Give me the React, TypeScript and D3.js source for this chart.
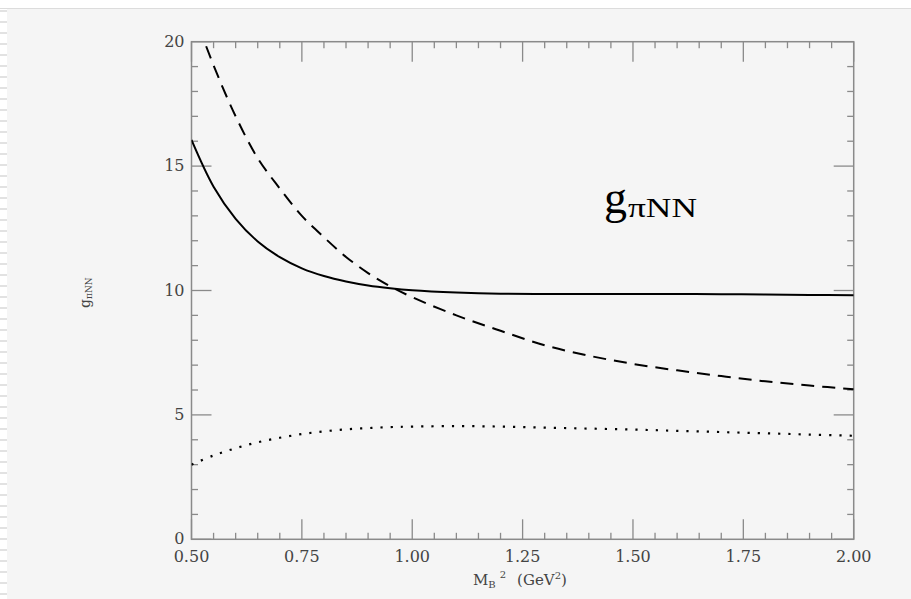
import React, { useEffect, useRef } from 'react'
import * as d3 from 'd3'

// Borel mass squared (GeV^2)
const massSq = [0.5, 0.55, 0.6, 0.65, 0.7, 0.75, 0.8, 0.85, 0.9, 0.95, 1.0, 1.1, 1.2, 1.3, 1.4, 1.5, 1.6, 1.7, 1.8, 1.9, 2.0]
// the three sum rule curves
const gSolid = [16.05, 14.17, 12.88, 11.97, 11.34, 10.89, 10.58, 10.36, 10.2, 10.09, 10.01, 9.92, 9.87, 9.86, 9.86, 9.86, 9.86, 9.85, 9.84, 9.82, 9.81]
const gDashed = [21.4, 19.05, 17.0, 15.32, 14.1, 13.0, 12.14, 11.35, 10.7, 10.17, 9.73, 9.0, 8.38, 7.8, 7.38, 7.05, 6.79, 6.56, 6.35, 6.18, 6.03]
const gDotted = [3.0, 3.37, 3.66, 3.9, 4.08, 4.23, 4.34, 4.42, 4.47, 4.51, 4.53, 4.55, 4.53, 4.49, 4.45, 4.41, 4.36, 4.31, 4.26, 4.21, 4.16]

const xMajorTicks = [0.5, 0.75, 1.0, 1.25, 1.5, 1.75, 2.0]
const xTickLabels = ['0.50', '0.75', '1.00', '1.25', '1.50', '1.75', '2.00']
const yMajorTicks = [0, 5, 10, 15, 20]
const yTickLabels = ['0', '5', '10', '15', '20']

const App = () => {
	const ref = useRef(null)

	useEffect(() => {
		const svg = d3.select(ref.current)
		svg.selectAll('*').remove()

		const width = 911,
			height = 599
		const axisColor = '#8a8a8a'
		const labelFont = "'DejaVu Serif', serif"

		// page / panel background
		svg.append('rect').attr('width', width).attr('height', height).attr('fill', '#fff')
		svg.append('rect').attr('x', 7).attr('y', 8).attr('width', width - 7).attr('height', height - 8).attr('fill', '#f5f5f5')
		svg.append('line').attr('x1', 0).attr('x2', width).attr('y1', 8.5).attr('y2', 8.5).attr('stroke', '#dcdcdc')
		svg.append('g')
			.selectAll('rect')
			.data(d3.range(10, height, 11))
			.enter()
			.append('rect')
			.attr('x', 0)
			.attr('y', d => d)
			.attr('width', 7)
			.attr('height', 2)
			.attr('fill', '#e2e2e2')

		const x = d3.scaleLinear().domain([0.5, 2.0]).range([191.5, 853.7])
		const y = d3.scaleLinear().domain([0, 20]).range([539.3, 41.7])

		const [x0, x1] = x.range()
		const [y0, y1] = y.range()

		svg.append('defs')
			.append('clipPath')
			.attr('id', 'plotClip')
			.append('rect')
			.attr('x', x0)
			.attr('y', y1)
			.attr('width', x1 - x0)
			.attr('height', y0 - y1)

		// frame
		svg.append('rect')
			.attr('x', x0)
			.attr('y', y1)
			.attr('width', x1 - x0)
			.attr('height', y0 - y1)
			.attr('fill', 'none')
			.attr('stroke', axisColor)
			.attr('stroke-width', 1.5)

		const ticks = svg.append('g').attr('stroke', axisColor).attr('stroke-width', 1.3)
		const isMajor = (list, v) => list.some(m => Math.abs(m - v) < 1e-6)

		x.ticks(30).forEach(v => {
			const len = isMajor(xMajorTicks, v) ? 20 : 6.5
			ticks.append('line').attr('x1', x(v)).attr('x2', x(v)).attr('y1', y0).attr('y2', y0 - len)
			ticks.append('line').attr('x1', x(v)).attr('x2', x(v)).attr('y1', y1).attr('y2', y1 + len)
		})
		y.ticks(20).forEach(v => {
			const len = isMajor(yMajorTicks, v) ? 20 : 6.5
			ticks.append('line').attr('y1', y(v)).attr('y2', y(v)).attr('x1', x0).attr('x2', x0 + len)
			ticks.append('line').attr('y1', y(v)).attr('y2', y(v)).attr('x1', x1).attr('x2', x1 - len)
		})

		// tick labels
		svg.append('g')
			.selectAll('text')
			.data(xMajorTicks)
			.enter()
			.append('text')
			.attr('x', d => x(d))
			.attr('y', 562)
			.attr('text-anchor', 'middle')
			.attr('font-family', labelFont)
			.attr('font-size', 16)
			.attr('fill', '#444')
			.text((d, i) => xTickLabels[i])

		svg.append('g')
			.selectAll('text')
			.data(yMajorTicks)
			.enter()
			.append('text')
			.attr('x', x0 - 7)
			.attr('y', d => y(d) + 5)
			.attr('text-anchor', 'end')
			.attr('font-family', labelFont)
			.attr('font-size', 16)
			.attr('fill', '#444')
			.text((d, i) => yTickLabels[i])

		// axis titles
		const xTitle = svg.append('text')
			.attr('x', 473)
			.attr('y', 585)
			.attr('font-family', labelFont)
			.attr('font-size', 15)
			.attr('fill', '#444')
		xTitle.append('tspan').text('M')
		xTitle.append('tspan').attr('font-size', 10).attr('dy', 3).text('B')
		xTitle.append('tspan').attr('font-size', 10).attr('dy', -10).attr('dx', 4).text('2')
		xTitle.append('tspan').attr('dy', 7).attr('dx', 11).text('(GeV')
		xTitle.append('tspan').attr('font-size', 10).attr('dy', -6).text('2')
		xTitle.append('tspan').attr('dy', 6).text(')')

		const yTitle = svg.append('text')
			.attr('transform', 'translate(90,308) rotate(-90)')
			.attr('font-family', labelFont)
			.attr('font-size', 14)
			.attr('fill', '#444')
		yTitle.append('tspan').text('g')
		yTitle.append('tspan').attr('font-size', 9).attr('dy', 2).text('πNN')

		// big label in the plot
		svg.append('text')
			.attr('x', 604)
			.attr('y', 213)
			.attr('font-family', "'Liberation Serif', serif")
			.attr('font-size', 46)
			.attr('fill', '#000')
			.text('g')
		svg.append('text')
			.attr('x', 628)
			.attr('y', 217)
			.attr('font-family', "'Liberation Serif', serif")
			.attr('font-size', 28)
			.attr('fill', '#000')
			.attr('textLength', 69)
			.attr('lengthAdjust', 'spacingAndGlyphs')
			.text('πNN')

		// curves
		const line = vals => d3.line()
			.x((d, i) => x(massSq[i]))
			.y(d => y(d))
			.curve(d3.curveCatmullRom.alpha(0.5))(vals)

		const curves = svg.append('g').attr('clip-path', 'url(#plotClip)').attr('fill', 'none').attr('stroke', '#000')
		curves.append('path').attr('d', line(gSolid)).attr('stroke-width', 2)
		curves.append('path').attr('d', line(gDashed)).attr('stroke-width', 2).attr('stroke-dasharray', '13,8')
		curves.append('path').attr('d', line(gDotted)).attr('stroke-width', 2.2).attr('stroke-dasharray', '2.2,8')
	}, [])

	return (
		<svg
			ref={ref}
			width={911}
			height={599}
			style={{ position: 'absolute', left: 0, top: 0, display: 'block' }}
		></svg>
	)
}

export default App
